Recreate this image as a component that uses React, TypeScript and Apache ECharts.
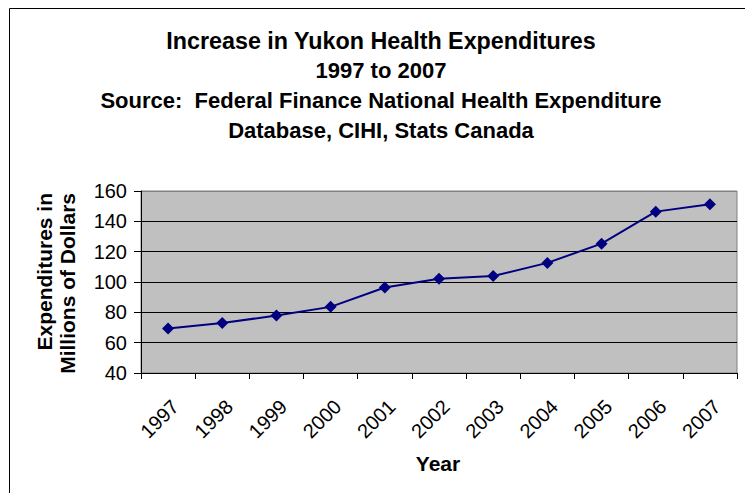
import React, { useEffect, useRef } from "react";
import * as echarts from "echarts";

const years = ["1997", "1998", "1999", "2000", "2001", "2002", "2003", "2004", "2005", "2006", "2007"];
const expenditures = [69.4, 72.9, 77.9, 83.6, 96.4, 102.1, 103.9, 112.6, 125.3, 146.4, 151.3];
const titleLines = [
  "Increase in Yukon Health Expenditures",
  "1997 to 2007",
  "Source:  Federal Finance National Health Expenditure",
  "Database, CIHI, Stats Canada",
];
const yTitleLines = ["Expenditures in", "Millions of Dollars"];
const xTitle = "Year";

const FONT = '"Liberation Sans", Arial, sans-serif';

export default function App() {
  const ref = useRef<HTMLDivElement>(null);
  useEffect(() => {
    document.body.style.margin = "0";
    const chart = echarts.init(ref.current!, null, { renderer: "svg" });
    const titleY = [41, 70, 100, 130];
    const titleSize = [23.3, 22, 22, 22];
    chart.setOption({
      animation: false,
      backgroundColor: "#ffffff",
      grid: {
        left: 141,
        top: 191,
        right: 8,
        bottom: 120,
        show: true,
        backgroundColor: "#C0C0C0",
        borderColor: "#808080",
        borderWidth: 1,
      },
      xAxis: {
        type: "category",
        data: years,
        boundaryGap: true,
        axisLine: { lineStyle: { color: "#000", width: 1 } },
        axisTick: { show: true, length: 6, lineStyle: { color: "#000" } },
        axisLabel: {
          rotate: 45,
          interval: 0,
          fontFamily: FONT,
          fontSize: 20,
          color: "#000",
          margin: 23,
          verticalAlign: "top",
        },
      },
      yAxis: {
        type: "value",
        min: 40,
        max: 160,
        interval: 20,
        axisLine: { show: true, lineStyle: { color: "#000", width: 1 } },
        axisTick: { show: true, length: 7, lineStyle: { color: "#000" } },
        axisLabel: { fontFamily: FONT, fontSize: 20, color: "#000", margin: 14 },
        splitLine: {
          show: true,
          lineStyle: {
            color: ["#000", "#000", "#000", "#000", "#000", "#000", "#808080"],
            width: 1,
          },
        },
      },
      series: [
        {
          type: "line",
          data: expenditures,
          symbol: "diamond",
          symbolSize: 12,
          lineStyle: { color: "#000080", width: 2 },
          itemStyle: { color: "#000080" },
        },
      ],
      graphic: [
        {
          type: "rect",
          shape: { x: 9.5, y: 8.5, width: 900, height: 700 },
          style: { fill: "none", stroke: "#000", lineWidth: 1 },
          z: 10,
        },
        ...titleLines.map((t, i) => ({
          type: "text",
          x: 381,
          y: titleY[i],
          style: {
            text: t,
            font: `bold ${titleSize[i]}px ${FONT}`,
            fill: "#000",
            align: "center",
            verticalAlign: "middle",
          },
        })),
        {
          type: "text",
          x: 44,
          y: 193,
          rotation: Math.PI / 2,
          style: {
            text: yTitleLines[0],
            font: `bold 21px ${FONT}`,
            fill: "#000",
            align: "right",
            verticalAlign: "middle",
          },
        },
        {
          type: "text",
          x: 67,
          y: 193,
          rotation: Math.PI / 2,
          style: {
            text: yTitleLines[1],
            font: `bold 21px ${FONT}`,
            fill: "#000",
            align: "right",
            verticalAlign: "middle",
          },
        },
        {
          type: "text",
          x: 438,
          y: 463,
          style: {
            text: xTitle,
            font: `bold 21px ${FONT}`,
            fill: "#000",
            align: "center",
            verticalAlign: "middle",
          },
        },
      ],
    });
    return () => chart.dispose();
  }, []);
  return <div ref={ref} style={{ width: 745, height: 493 }} />;
}
